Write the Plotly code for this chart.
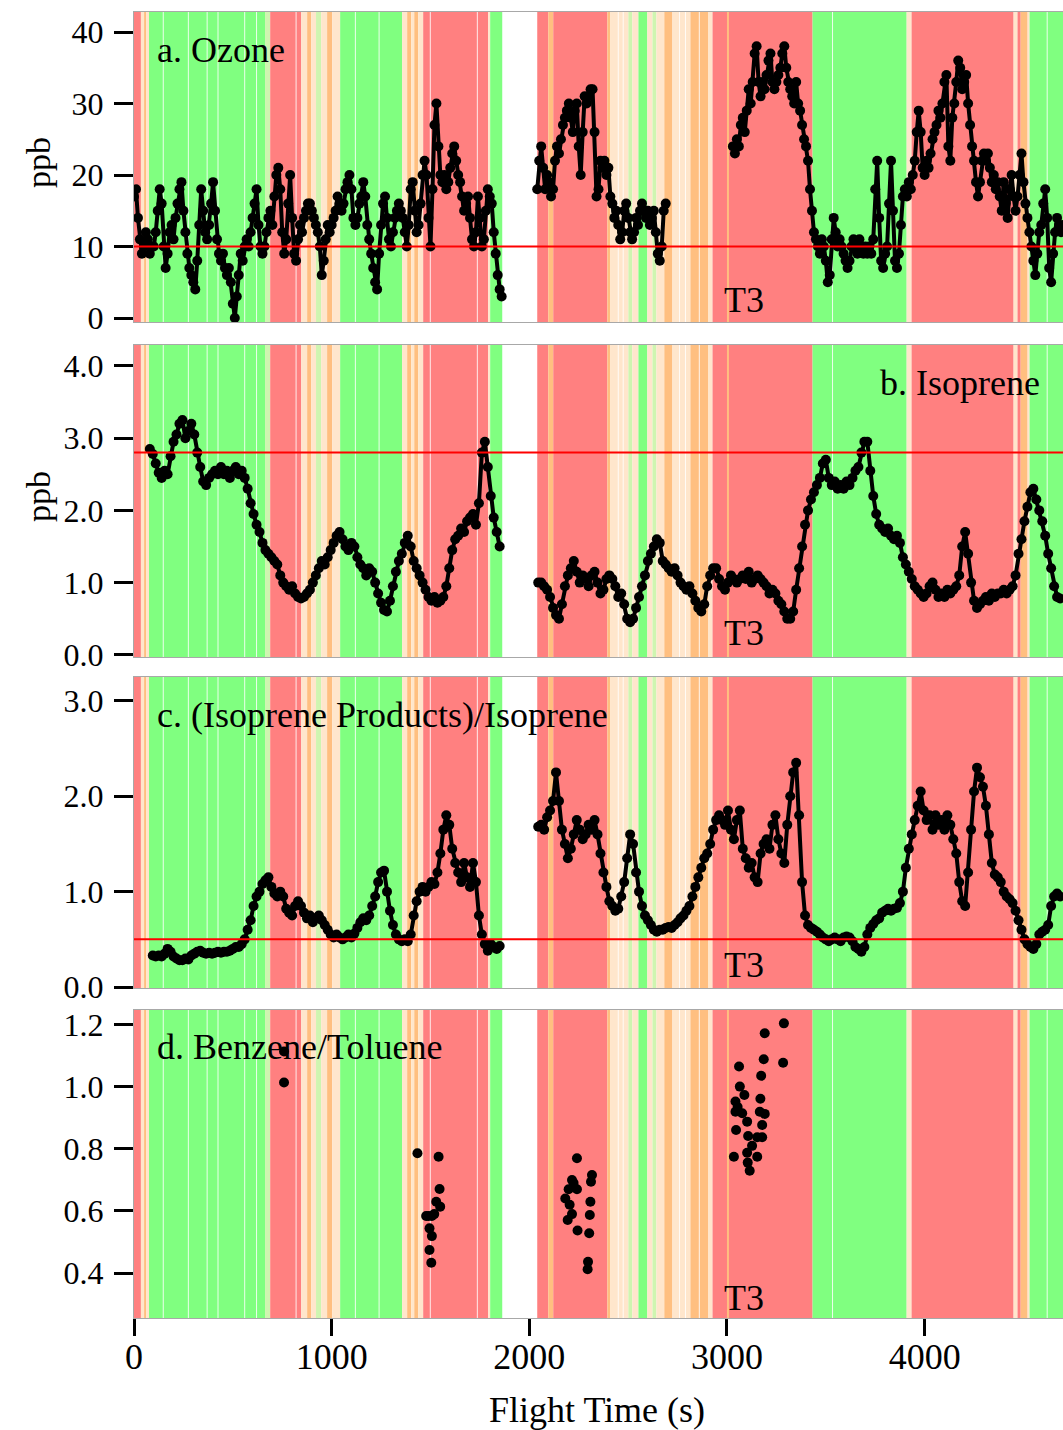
import plotly.graph_objects as go

# ------------------------------------------------------------------ data
# a. Ozone (ppb), three flight segments, sample spacing 10 s
ozone_seg1_start, ozone_seg2_start, ozone_seg3_start, ozone_step = 0, 2040, 3030, 10
ozone_seg1 = [17, 18, 14, 11, 9, 10, 12, 11, 9, 10,
              10, 12, 15, 18, 16, 10, 7, 9, 12, 13,
              11, 14, 16, 18, 19, 15, 12, 9, 7, 6,
              5, 4, 8, 13, 18, 15, 12, 11, 13, 16,
              19, 15, 11, 9, 8, 9, 7, 6, 7, 5,
              2, 0, 3, 6, 9, 8, 10, 11, 10, 12,
              14, 16, 18, 13, 10, 9, 10, 12, 14, 15,
              13, 17, 20, 21, 18, 12, 9, 11, 16, 20,
              14, 9, 8, 11, 13, 12, 14, 15, 16, 16,
              15, 14, 13, 12, 10, 6, 8, 11, 13, 12,
              13, 14, 15, 17, 16, 15, 16, 18, 19, 20,
              18, 14, 13, 14, 16, 17, 19, 17, 13, 11,
              9, 7, 5, 4, 9, 13, 16, 17, 14, 11,
              10, 12, 14, 15, 16, 15, 14, 12, 10, 13,
              18, 19, 15, 12, 13, 16, 20, 22, 20, 14,
              10, 18, 27, 30, 24, 20, 19, 20, 18, 19,
              21, 23, 24, 22, 20, 19, 17, 15, 16, 17,
              14, 11, 10, 12, 17, 14, 10, 11, 15, 18,
              17, 16, 12, 9, 6, 4, 3]
ozone_seg2 = [18, 22, 24, 21, 18, 20, 19, 17, 18, 22,
              24, 23, 25, 27, 28, 29, 30, 28, 26, 29,
              30, 24, 20, 26, 31, 30, 31, 32, 32, 26,
              17, 18, 22, 21, 22, 20, 21, 17, 16, 14,
              15, 13, 11, 12, 15, 16, 14, 12, 11, 12,
              14, 13, 15, 16, 15, 14, 15, 13, 14, 15,
              12, 9, 8, 10, 15, 16]
ozone_seg3 = [24, 23, 25, 24, 27, 28, 26, 29, 32, 30,
              33, 37, 38, 33, 31, 33, 32, 34, 36, 37,
              33, 32, 33, 34, 35, 37, 38, 35, 33, 32,
              31, 30, 33, 30, 29, 27, 25, 24, 22, 18,
              15, 12, 11, 10, 9, 11, 10, 8, 5, 6,
              11, 14, 12, 10, 11, 10, 9, 8, 7, 8,
              10, 11, 10, 9, 11, 10, 9, 10, 9, 10,
              9, 11, 18, 22, 14, 8, 7, 9, 10, 16,
              22, 15, 8, 7, 9, 13, 17, 18, 17, 19,
              18, 20, 22, 26, 29, 26, 21, 20, 22, 21,
              23, 25, 26, 27, 29, 28, 30, 33, 34, 24,
              22, 28, 30, 33, 36, 35, 32, 33, 34, 30,
              27, 24, 22, 19, 17, 19, 22, 23, 22, 23,
              21, 19, 20, 18, 19, 17, 15, 19, 16, 14,
              18, 20, 17, 15, 17, 20, 23, 19, 16, 14,
              12, 10, 8, 6, 9, 12, 13, 16, 18, 14,
              7, 5, 9, 12, 14, 13, 12, 13]
ozone_ref = 10

# b. Isoprene (ppb), sample spacing 15 s
iso_seg1_start, iso_seg2_start, iso_step = 80, 2045, 15
iso_seg1 = [2.85, 2.78, 2.65, 2.52, 2.45, 2.55, 2.5, 2.75, 2.95, 3.05,
            3.2, 3.25, 3.0, 3.1, 3.2, 3.05, 2.8, 2.6, 2.4, 2.35,
            2.45, 2.5, 2.55, 2.5, 2.6, 2.5, 2.55, 2.45, 2.55, 2.6,
            2.5, 2.55, 2.45, 2.3, 2.1, 1.95, 1.8, 1.7, 1.55, 1.45,
            1.4, 1.35, 1.3, 1.25, 1.1, 1.0, 0.95, 0.9, 0.95, 0.85,
            0.8, 0.78, 0.8, 0.85, 0.9, 1.0, 1.1, 1.2, 1.3, 1.25,
            1.35, 1.45, 1.55, 1.65, 1.7, 1.6, 1.5, 1.45, 1.55, 1.5,
            1.35, 1.25, 1.2, 1.1, 1.2, 1.15, 1.0, 0.85, 0.72, 0.62,
            0.6, 0.75, 0.95, 1.15, 1.3, 1.4, 1.55, 1.65, 1.5, 1.3,
            1.2, 1.1, 1.0, 0.9, 0.8, 0.75, 0.8, 0.72, 0.75, 0.8,
            0.95, 1.2, 1.45, 1.6, 1.65, 1.75, 1.7, 1.85, 1.9, 1.95,
            1.8, 2.1, 2.8, 2.95, 2.6, 2.2, 1.9, 1.7, 1.5]
iso_seg2 = [1.0, 1.0, 0.95, 0.9, 0.8, 0.65, 0.55, 0.5, 0.7, 0.95,
            1.1, 1.2, 1.3, 1.15, 1.0, 1.1, 1.05, 0.95, 1.1, 1.15,
            1.0, 0.85, 0.9, 1.05, 1.1, 1.05, 0.95, 0.8, 0.85, 0.7,
            0.5, 0.45, 0.5, 0.65, 0.8, 0.95, 1.1, 1.3, 1.4, 1.5,
            1.6, 1.55, 1.3, 1.25, 1.2, 1.15, 1.2, 1.1, 1.0, 0.95,
            0.9, 0.95, 0.85, 0.75, 0.65, 0.6, 0.7, 0.95, 1.1, 1.2,
            1.2, 1.05, 0.95, 0.9, 1.0, 1.1, 1.05, 1.0, 1.05, 1.1,
            1.05, 1.15, 1.0, 1.05, 1.1, 1.05, 1.0, 0.95, 0.85, 0.9,
            0.85, 0.75, 0.7, 0.6, 0.5, 0.5, 0.6, 0.9, 1.2, 1.5,
            1.8, 2.0, 2.15, 2.25, 2.35, 2.45, 2.65, 2.7, 2.45, 2.35,
            2.4, 2.3, 2.35, 2.3, 2.4, 2.35, 2.45, 2.55, 2.6, 2.8,
            2.95, 2.95, 2.55, 2.2, 1.95, 1.8, 1.75, 1.7, 1.75, 1.65,
            1.6, 1.65, 1.55, 1.35, 1.25, 1.15, 1.05, 0.95, 0.9, 0.85,
            0.8, 0.85, 0.95, 1.0, 0.9, 0.8, 0.85, 0.8, 0.9, 0.85,
            0.9, 0.95, 1.1, 1.5, 1.7, 1.4, 1.0, 0.75, 0.65, 0.7,
            0.75, 0.8, 0.75, 0.85, 0.8, 0.85, 0.85, 0.9, 0.85, 0.9,
            0.95, 1.1, 1.4, 1.6, 1.85, 2.05, 2.25, 2.3, 2.15, 2.0,
            1.85, 1.65, 1.4, 1.2, 0.95, 0.8, 0.78]
iso_ref = 2.8

# c. (Isoprene Products)/Isoprene, sample spacing 15 s
ratio_seg1_start, ratio_seg2_start, ratio_step = 95, 2045, 15
ratio_seg1 = [0.33, 0.32, 0.33, 0.32, 0.35, 0.4, 0.37, 0.32, 0.3, 0.28,
              0.28, 0.3, 0.29, 0.33, 0.35, 0.37, 0.38, 0.36, 0.35, 0.36,
              0.35, 0.36, 0.37, 0.36, 0.37, 0.37, 0.38, 0.4, 0.42, 0.42,
              0.45, 0.5, 0.6, 0.7, 0.85, 0.95, 1.0, 1.08, 1.12, 1.15,
              1.05, 0.98, 0.95, 1.0, 0.95, 0.82, 0.78, 0.75, 0.85, 0.9,
              0.85, 0.78, 0.72, 0.75, 0.68, 0.72, 0.75, 0.7, 0.65, 0.6,
              0.55, 0.52, 0.55, 0.52, 0.5, 0.52, 0.55, 0.52, 0.56, 0.62,
              0.68, 0.72, 0.7, 0.75, 0.85, 0.95, 1.1, 1.2, 1.22, 1.0,
              0.8, 0.65, 0.55, 0.5, 0.48, 0.5, 0.48, 0.55, 0.75, 0.9,
              1.0, 1.05, 1.0, 1.05, 1.1, 1.08, 1.2, 1.4, 1.65, 1.8,
              1.7, 1.45, 1.3, 1.2, 1.1, 1.3, 1.15, 1.05, 1.3, 1.1,
              0.75, 0.55, 0.45, 0.38, 0.45, 0.42, 0.4, 0.43]
ratio_seg2 = [1.68, 1.7, 1.65, 1.78, 1.85, 1.95, 2.25, 1.95, 1.65, 1.5,
              1.35, 1.45, 1.6, 1.75, 1.65, 1.55, 1.6, 1.7, 1.65, 1.75,
              1.6, 1.4, 1.2, 1.05, 0.9, 0.85, 0.8, 0.82, 0.95, 1.1,
              1.35, 1.6, 1.5, 1.2, 1.0, 0.85, 0.75, 0.7, 0.65, 0.6,
              0.58, 0.6, 0.6, 0.62, 0.63, 0.62, 0.65, 0.68, 0.72, 0.75,
              0.8, 0.85, 0.95, 1.05, 1.15, 1.25, 1.35, 1.4, 1.5, 1.65,
              1.75, 1.8, 1.75, 1.7, 1.85, 1.65, 1.55, 1.75, 1.85, 1.45,
              1.35, 1.25, 1.3, 1.15, 1.1, 1.4, 1.5, 1.55, 1.45, 1.7,
              1.8, 1.55, 1.4, 1.3, 1.7, 2.0, 2.25, 2.35, 1.8, 1.1,
              0.75, 0.65, 0.62, 0.6, 0.58, 0.55, 0.52, 0.5, 0.48, 0.5,
              0.52, 0.5, 0.48, 0.52, 0.53, 0.52, 0.48, 0.42, 0.4, 0.37,
              0.42, 0.55, 0.62, 0.66, 0.7, 0.72, 0.78, 0.8, 0.82, 0.8,
              0.82, 0.83, 0.88, 1.0, 1.25, 1.45, 1.6, 1.75, 1.9, 2.05,
              1.85, 1.75, 1.8, 1.65, 1.8, 1.7, 1.75, 1.65, 1.8, 1.7,
              1.55, 1.4, 1.1, 0.9, 0.85, 1.2, 1.65, 2.05, 2.3, 2.2,
              2.1, 1.9, 1.6, 1.3, 1.18, 1.15, 1.1, 1.0, 0.95, 0.92,
              0.88, 0.8, 0.7, 0.6, 0.5, 0.45, 0.42, 0.4, 0.45, 0.55,
              0.58, 0.6, 0.65, 0.85, 0.95, 0.98, 0.95]
ratio_ref = 0.5

# d. Benzene/Toluene (discrete samples)
bt_time = [759, 759, 1434, 1541, 1546, 1529, 1549, 1478, 1507, 1519, 1495, 1507, 1495, 1504, 1490,
           2241, 2216, 2224, 2241, 2199, 2182, 2204, 2216, 2194, 2244, 2317, 2312, 2309, 2306, 2303,
           2297, 2295,
           3288, 3191, 3186, 3284, 3061, 3173, 3065, 3088, 3169, 3043, 3054, 3043, 3077, 3166, 3191,
           3102, 3178, 3046, 3107, 3153, 3178, 3127, 3102, 3035, 3153, 3105, 3115]
bt_ratio = [1.114, 1.014, 0.786, 0.775, 0.671, 0.63, 0.614, 0.584, 0.584, 0.59, 0.544, 0.519, 0.474,
            0.433, 0.584,
            0.77, 0.70, 0.69, 0.67, 0.67, 0.64, 0.62, 0.59, 0.571, 0.537, 0.716, 0.694, 0.63, 0.587,
            0.528, 0.436, 0.412,
            1.205, 1.173, 1.089, 1.078, 1.066, 1.036, 1.001, 0.974, 0.962, 0.953, 0.935, 0.92, 0.915,
            0.92, 0.913, 0.888, 0.877, 0.861, 0.842, 0.838, 0.838, 0.81, 0.788, 0.775, 0.775, 0.756,
            0.73]

# background classification bands (flight time, s)
band_start = [0, 35, 51, 61, 76, 663, 689, 846, 876, 896, 921, 947, 977, 1003, 1043, 1357, 1382,
              1402, 1418, 1438, 1463, 1792, 1802,
              2040, 2096, 2121, 2395, 2410, 2501, 2521, 2552, 2597, 2623, 2643, 2683, 2724, 2815,
              2906, 2927, 3433, 3909, 3934, 4450, 4470, 4486, 4521, 4531]
band_end = [35, 51, 61, 76, 663, 689, 846, 876, 896, 921, 947, 977, 1003, 1043, 1357, 1382, 1402,
            1418, 1438, 1463, 1792, 1802, 1863,
            2096, 2121, 2395, 2410, 2501, 2521, 2552, 2597, 2623, 2643, 2683, 2724, 2815, 2906,
            2927, 3433, 3909, 3934, 4450, 4470, 4486, 4521, 4531, 4720]
band_kind = ["r", "c", "o", "c", "g", "l", "r", "c", "o", "c", "l", "c", "o", "c", "g", "c", "o",
             "c", "o", "c", "r", "c", "g",
             "r", "o", "r", "o", "c", "l", "c", "g", "c", "l", "c", "o", "c", "o",
             "c", "r", "g", "c", "r", "c", "r", "o", "c", "g"]
white_stripes = [148, 275, 370, 425, 560, 620, 820, 1120, 1240, 1499, 1737,
                 2450, 2475, 2760, 2790, 2860, 3534, 4620]
orange_stripes = [3005]

# ------------------------------------------------------------------ style
W, H = 1063, 1430
FONT = "Liberation Serif, Times New Roman, serif"
FS = 36
FS_Y = 32
band_color = {"r": "#FF8080", "g": "#80FF80", "o": "#FFBF80", "c": "#FFE6CC", "l": "#CFF5B0"}
panel_px = [(12, 322), (345, 657), (677, 988), (1010, 1318)]
x_left_px = 134
x_range = [0, 4700]
y_ranges = [[-0.56, 42.8], [-0.03, 4.29], [-0.01, 3.25], [0.255, 1.248]]
y_ticks = [[0, 10, 20, 30, 40], [0, 1, 2, 3, 4], [0, 1, 2, 3], [0.4, 0.6, 0.8, 1.0, 1.2]]
y_fmt = ["d", ".1f", ".1f", ".1f"]

fig = go.Figure()


def times(start, step, vals):
    return [start + i * step for i in range(len(vals))]


def add_series(t, v, idx, size=10):
    fig.add_trace(go.Scatter(
        x=t, y=v, mode="lines+markers",
        line=dict(color="black", width=4),
        marker=dict(color="black", size=size),
        xaxis="x" if idx == 1 else f"x{idx}",
        yaxis="y" if idx == 1 else f"y{idx}",
        showlegend=False, hoverinfo="x+y"))


add_series(times(ozone_seg1_start, ozone_step, ozone_seg1), ozone_seg1, 1)
add_series(times(ozone_seg2_start, ozone_step, ozone_seg2), ozone_seg2, 1)
add_series(times(ozone_seg3_start, ozone_step, ozone_seg3), ozone_seg3, 1)
add_series(times(iso_seg1_start, iso_step, iso_seg1), iso_seg1, 2)
add_series(times(iso_seg2_start, iso_step, iso_seg2), iso_seg2, 2)
add_series(times(ratio_seg1_start, ratio_step, ratio_seg1), ratio_seg1, 3)
add_series(times(ratio_seg2_start, ratio_step, ratio_seg2), ratio_seg2, 3)
fig.add_trace(go.Scatter(x=bt_time, y=bt_ratio, mode="markers",
                         marker=dict(color="black", size=10),
                         xaxis="x4", yaxis="y4", showlegend=False))

shapes = []
annotations = []
layout = {}
for i, (top, bot) in enumerate(panel_px, start=1):
    xs = "x" if i == 1 else f"x{i}"
    ys = "y" if i == 1 else f"y{i}"
    dom = [1 - bot / H, 1 - top / H]
    layout["xaxis" if i == 1 else f"xaxis{i}"] = dict(
        domain=[x_left_px / W, 1.0], range=x_range, anchor=ys, automargin=False,
        showline=True, linecolor="#A8A8A8", linewidth=1, mirror=True,
        showgrid=False, zeroline=False,
        ticks="outside" if i == 4 else "", ticklen=17, tickwidth=3, tickcolor="black",
        tickvals=[0, 1000, 2000, 3000, 4000], showticklabels=(i == 4),
        ticklabelstandoff=-10,
        tickfont=dict(family=FONT, size=FS, color="black"),
        matches=None if i == 1 else "x")
    layout["yaxis" if i == 1 else f"yaxis{i}"] = dict(
        domain=dom, range=y_ranges[i - 1], anchor=xs, automargin=False,
        showline=True, linecolor="#A8A8A8", linewidth=1, mirror=True,
        showgrid=False, zeroline=False,
        ticks="outside", ticklen=19, tickwidth=3, tickcolor="black",
        tickvals=y_ticks[i - 1], tickformat=y_fmt[i - 1], ticklabelstandoff=4,
        tickfont=dict(family=FONT, size=FS_Y, color="black"))
    for s, e, k in zip(band_start, band_end, band_kind):
        shapes.append(dict(type="rect", xref=xs, yref=f"{ys} domain", x0=s, x1=e, y0=0, y1=1,
                           fillcolor=band_color[k], line=dict(width=0), layer="below"))
    for t in white_stripes:
        shapes.append(dict(type="rect", xref=xs, yref=f"{ys} domain", x0=t - 2.5, x1=t + 2.5,
                           y0=0, y1=1, fillcolor="white", opacity=0.85,
                           line=dict(width=0), layer="below"))
    for t in orange_stripes:
        shapes.append(dict(type="rect", xref=xs, yref=f"{ys} domain", x0=t - 5, x1=t + 5,
                           y0=0, y1=1, fillcolor="#FFBF80",
                           line=dict(width=0), layer="below"))

for i, ref in [(1, ozone_ref), (2, iso_ref), (3, ratio_ref)]:
    xs = "x" if i == 1 else f"x{i}"
    ys = "y" if i == 1 else f"y{i}"
    shapes.append(dict(type="line", xref=f"{xs} domain", yref=ys, x0=0, x1=1, y0=ref, y1=ref,
                       line=dict(color="#FF0000", width=2), layer="above"))


def px_ann(text, xpx, ypx, xanchor="center", size=FS, angle=0):
    annotations.append(dict(text=text, x=xpx / W, y=1 - ypx / H, xref="paper", yref="paper",
                            xanchor=xanchor, yanchor="middle", showarrow=False,
                            textangle=angle, font=dict(family=FONT, size=size, color="black")))


px_ann("a. Ozone", 155, 50, "left")
px_ann("b. Isoprene", 1042, 383, "right")
px_ann("c. (Isoprene Products)/Isoprene", 155, 715, "left")
px_ann("d. Benzene/Toluene", 155, 1047, "left")
px_ann("ppb", 38, 163, angle=-90, size=34)
px_ann("ppb", 38, 497, angle=-90, size=34)
px_ann("Flight Time (s)", 597, 1410)
for i, ypx in zip(range(1, 5), [300, 633, 965, 1298]):
    annotations.append(dict(text="T3", x=2975, xref="x" if i == 1 else f"x{i}",
                            y=1 - ypx / H, yref="paper", xanchor="left", yanchor="middle",
                            showarrow=False, font=dict(family=FONT, size=FS, color="black")))

fig.update_layout(
    width=W, height=H, autosize=False,
    margin=dict(l=0, r=0, t=0, b=0, pad=0),
    paper_bgcolor="white", plot_bgcolor="white",
    shapes=shapes, annotations=annotations, showlegend=False,
    **layout)

fig.write_html("out.html")
